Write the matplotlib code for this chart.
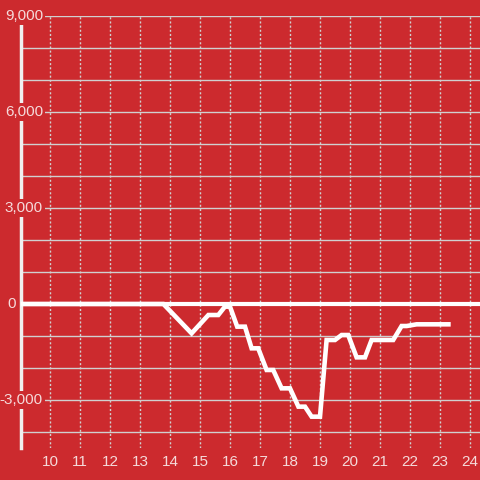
import matplotlib
matplotlib.use("Agg")
import matplotlib.pyplot as plt
from matplotlib.transforms import blended_transform_factory

hours = [9.03, 13.78, 14.72, 15.28, 15.61, 15.83, 16.0, 16.24, 16.5, 16.72, 16.94,
         17.22, 17.44, 17.72, 18.0, 18.28, 18.5, 18.72, 19.0, 19.22, 19.5, 19.72,
         19.94, 20.22, 20.5, 20.72, 21.44, 21.72, 21.89, 22.22, 23.28]
values = [0, 0, -917, -344, -344, -83, -83, -708, -708, -1385, -1385,
          -2062, -2062, -2635, -2635, -3208, -3208, -3521, -3521, -1125, -1125, -969,
          -969, -1667, -1667, -1125, -1125, -688, -688, -635, -635]
x_ticks = list(range(10, 25))
y_labels = [-3000, 0, 3000, 6000, 9000]
y_grid = list(range(-4000, 9001, 1000))

BG = "#cc2a2e"
TXT = "#f5dada"
GRID = "#d0d0d0"

plt.rcParams['font.family'] = ['Liberation Sans', 'DejaVu Sans']
fig = plt.figure(figsize=(4.8, 4.8), dpi=100, facecolor=BG)
ax = fig.add_axes([21/480, 32/480, 459/480, 432/480])
ax.set_facecolor(BG)
x0 = 10 - 29/30
x1 = 10 + 430/30
ax.set_xlim(x0, x1)
ax.set_ylim(-4500, 9000)

for v in y_grid:
    if v == 0:
        continue
    ax.axhline(v, color=GRID, lw=1.0, zorder=1)
for h in x_ticks:
    ax.plot([h, h], [-4500, 9000], color=GRID, lw=1.0, linestyle=(0, (1.5, 1.5)), zorder=1)

ax.axhline(0, color="white", lw=3, zorder=3)
ax.plot(hours, values, color="white", lw=3.3, zorder=4, solid_joinstyle='miter')

for s in ['top', 'right', 'bottom']:
    ax.spines[s].set_visible(False)
ax.spines['left'].set_color('#f0f0f0')
ax.spines['left'].set_linewidth(2.5)
ax.spines['left'].set_zorder(2)
ax.set_xticks([])
ax.set_yticks([])

trans = blended_transform_factory(fig.transFigure, ax.transData)
for v in y_labels:
    if v == 0:
        ax.text(16/480, v, "0", transform=trans, ha='right', va='center',
                fontsize=11, color=TXT, zorder=5)
    else:
        ax.text(43/480, v, f"{v:,}", transform=trans, ha='right', va='center',
                fontsize=11, color=TXT, zorder=5,
                bbox=dict(boxstyle='square,pad=0.12', fc=BG, ec='none'))

transx = blended_transform_factory(ax.transData, fig.transFigure)
for h in x_ticks:
    ax.text(h, 1 - 462/480, str(h), transform=transx, ha='center', va='center',
            fontsize=11, color=TXT)

fig.savefig("out.png", dpi=100, facecolor=BG)
